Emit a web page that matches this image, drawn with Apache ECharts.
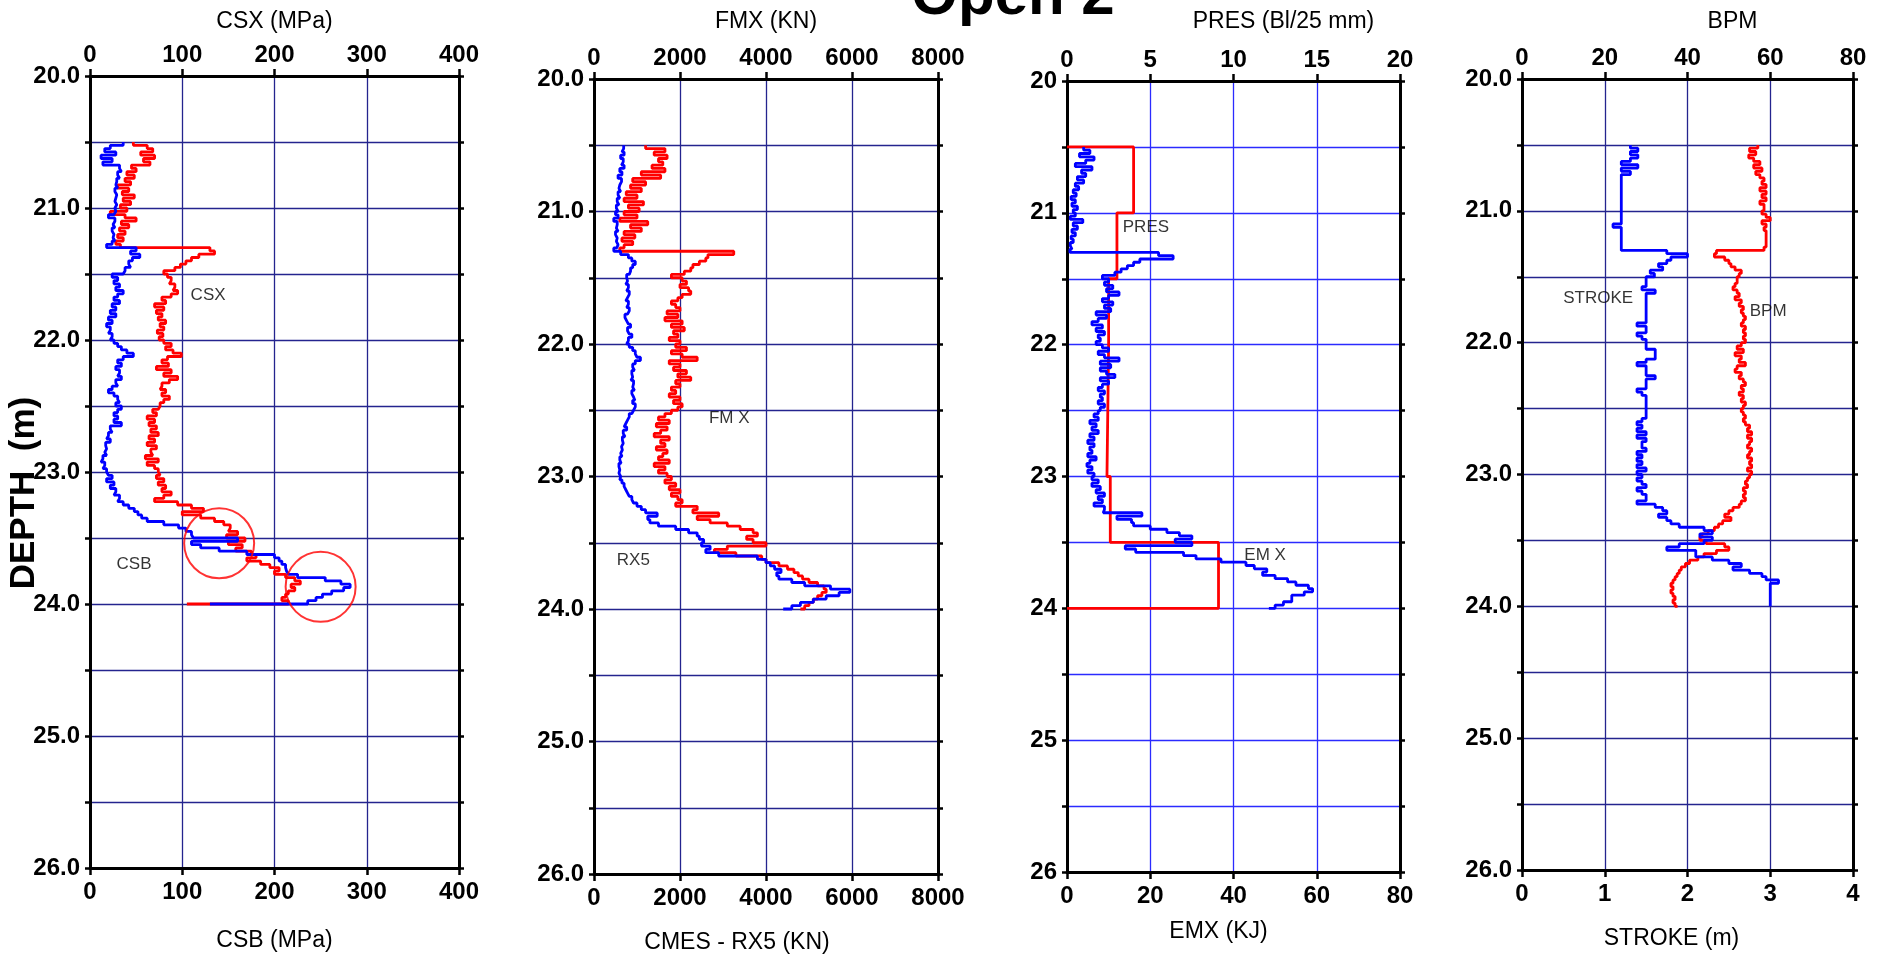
<!DOCTYPE html>
<html>
<head>
<meta charset="utf-8">
<script src="https://cdn.jsdelivr.net/npm/echarts@6/dist/echarts.min.js"></script>
<style>
  html, body { margin: 0; padding: 0; background: #ffffff; }
  #chart { width: 1879px; height: 958px; }
</style>
</head>
<body>
<div id="chart"></div>
<script>
// Depth samples (m) shared by the dynamic-monitoring records
const depth = [20.5,20.525,20.55,20.575,20.6,20.625,20.65,20.675,20.7,20.725,
  20.75,20.775,20.8,20.825,20.85,20.875,20.9,20.925,20.95,20.975,
  21,21.025,21.05,21.075,21.1,21.125,21.15,21.175,21.2,21.225,
  21.25,21.275,21.3,21.325,21.35,21.375,21.4,21.425,21.45,21.475,
  21.5,21.525,21.55,21.575,21.6,21.625,21.65,21.675,21.7,21.725,
  21.75,21.775,21.8,21.825,21.85,21.875,21.9,21.925,21.95,21.975,
  22,22.025,22.05,22.075,22.1,22.125,22.15,22.175,22.2,22.225,
  22.25,22.275,22.3,22.325,22.35,22.375,22.4,22.425,22.45,22.475,
  22.5,22.525,22.55,22.575,22.6,22.625,22.65,22.675,22.7,22.725,
  22.75,22.775,22.8,22.825,22.85,22.875,22.9,22.925,22.95,22.975,
  23,23.025,23.05,23.075,23.1,23.125,23.15,23.175,23.2,23.225,
  23.25,23.275,23.3,23.325,23.35,23.375,23.4,23.425,23.45,23.475,
  23.5,23.525,23.55,23.575,23.6,23.625,23.65,23.675,23.7,23.725,
  23.75,23.775,23.8,23.825,23.85,23.875,23.9,23.925,23.95,23.975,
  24];

// Compression stress at gauges (CSX) and at toe (CSB), MPa
const csx = [47,62,68,55,70,58,65,45,50,40,
  48,38,44,30,42,35,48,36,44,33,
  40,22,38,50,34,42,32,38,30,36,
  28,33,130,135,118,110,104,98,92,80,
  84,88,86,92,90,95,88,78,82,70,
  80,72,78,74,82,76,80,73,79,75,
  80,88,82,90,99,84,78,85,72,88,
  80,95,86,78,76,82,78,86,80,76,
  74,68,72,62,70,64,72,66,74,64,
  70,62,72,66,68,60,74,62,70,74,
  76,72,80,74,82,78,88,80,70,95,
  110,123,100,120,135,145,152,150,160,148,
  168,150,165,158,175,180,170,185,195,205,
  200,212,222,228,218,222,215,212,208,215,
  105];
const csb = [36,22,16,28,12,24,14,32,34,30,
  32,29,28,30,27,29,28,27,29,27,
  28,26,20,27,25,27,24,26,25,27,
  24,18,50,44,54,46,42,44,38,36,
  24,30,26,32,28,36,30,26,32,24,
  28,22,28,20,24,18,22,20,24,22,
  26,30,34,40,47,36,30,34,28,32,
  30,34,28,30,24,20,26,30,32,28,
  34,30,26,30,26,34,22,24,20,18,
  22,17,18,16,18,14,12,16,14,18,
  20,24,18,26,22,28,26,32,30,36,
  42,48,52,56,62,80,96,104,110,112,
  160,110,120,140,170,200,205,208,212,213,
  215,225,255,272,282,275,262,252,245,236,
  130];

// Maximum force (FMX) and mobilized resistance (RX5), kN
const fmx = [1200,1650,1400,1700,1500,1600,1350,1650,1100,1550,
  900,1200,850,1100,750,1000,700,1150,800,1050,
  700,1000,600,1250,850,1100,700,950,650,900,
  700,600,3250,2650,2600,2450,2300,2250,2100,1800,
  2050,2150,2000,2200,2250,2050,1950,1800,1900,2000,
  1700,1950,1650,2050,1800,2100,1850,1950,1750,2000,
  1900,2150,1800,2050,2400,1750,2000,1850,2150,1950,
  2250,1900,2000,1800,1900,1750,2000,1850,2050,1950,
  1800,1650,1500,1750,1450,1700,1550,1400,1750,1550,
  1650,1450,1700,1600,1500,1750,1400,1650,1500,1700,
  1800,1650,1900,1750,2000,1800,1950,2050,1900,2400,
  2300,2900,2400,2700,3100,3400,3700,3800,3550,3700,
  4000,3100,2800,3300,3900,4000,4300,4500,4650,4750,
  4850,5000,5200,5350,5400,5300,5200,5100,5000,4900,
  4800];
const rx5 = [690,650,700,620,680,640,700,600,650,560,
  640,600,580,620,560,600,540,580,520,560,
  500,560,460,540,520,560,500,540,520,560,
  530,460,620,800,880,960,900,850,820,760,
  780,740,800,760,820,780,740,800,760,820,
  780,720,760,800,850,780,820,880,800,760,
  820,900,960,1000,1080,960,900,940,880,900,
  860,920,900,940,880,920,950,900,960,920,
  880,820,780,740,700,760,680,720,660,680,
  640,660,620,650,600,630,580,600,580,620,
  600,650,700,740,780,820,880,920,1000,1100,
  1200,1470,1250,1300,1500,1900,2200,2400,2450,2550,
  2500,2700,2600,2900,3800,4000,4100,4200,4350,4250,
  4300,4600,4900,5500,5950,5700,5400,5100,4800,4600,
  4400];

// Penetration resistance per 0.5 m interval (blows / 25 mm)
const presDepth = [20.5,20.5,21.0,21.5,22.0,23.0,23.5,24.0];
const pres = [0,4,3,2.5,2.4,2.6,9.1,0];

// Transferred energy (EMX), kJ
const emx = [4,5.5,3,6.5,4.5,2,6,3.5,4.5,2.5,
  4,2,2.8,1.5,2.2,1,2,1.2,2.5,1.5,
  2,0.8,3.8,1.5,2.5,1.2,2,1,1.5,0.8,
  1.2,0.7,22,25.5,17.5,16,14.5,13,11.5,8.5,
  10,9,11,9.5,12.5,10,8.5,11,9,10.5,
  7,9.5,7.5,6,8.5,7,9,7.5,8,7,
  8.5,10,7.5,9,12.5,8,10.5,8,9.5,11.5,
  8,10,8.5,7.5,9,8,8.5,7.5,9,8,
  7.5,6.5,7.5,5.5,7,6,7.5,5.5,6.5,5,
  6.5,5.5,6,5,7,5.5,4.8,6,5,6.5,
  6,7.5,6,8,7,9,7.5,8.5,6.5,9,
  8.7,18,12,15.5,16,20,24,27,30,26,
  30,14,16.5,28,31,37,43,45,48,47,
  50,53,55,58,59,57,54,54,52,50,
  48.5];

// Blows per minute and hammer stroke (m)
const bpm = [57,55,56.5,54.8,56,57.5,56,58,56.5,57.5,
  58.5,58,59,57.5,59,58,59,57.5,58.5,58.5,
  58,59,60,58,59,58.5,59,59,59,59,
  59,58.5,47,46.5,49,50,50.5,51.5,53,52.5,
  52,52,51.5,51,52,52.5,51.5,53,52.5,53.5,
  53,53.5,54,53.5,53,54,53.5,54,53.5,54,
  53,52,53.5,51.5,53,52.5,54,52,51.5,53,
  52.5,53.5,54,53,53.5,52.5,53.5,53,54,53.5,
  53,53.5,54,53.5,54,55,54.5,55.5,54.5,55.5,
  55,54.5,55.5,55,54.5,55.5,55,55.5,54.5,55.5,
  55,54.5,54,54.5,53.5,54,53.5,54,53,52.5,
  51,50,49,50.5,48.5,47.5,46.5,45,43.5,43,
  44.5,49,50,47,44,42.5,40.5,39.5,38.5,38,
  37.5,37,36.5,36,36.5,36,36.5,37,36.5,37,
  37.6];
const stroke = [1.31,1.4,1.31,1.4,1.31,1.2,1.4,1.2,1.31,1.2,
  1.2,1.2,1.2,1.2,1.2,1.2,1.2,1.2,1.2,1.2,
  1.2,1.2,1.2,1.2,1.1,1.2,1.2,1.2,1.2,1.2,
  1.2,1.2,1.75,2.0,1.8,1.75,1.65,1.7,1.55,1.6,
  1.5,1.5,1.5,1.45,1.61,1.5,1.5,1.5,1.5,1.5,
  1.5,1.5,1.5,1.5,1.39,1.5,1.5,1.39,1.45,1.5,
  1.5,1.5,1.61,1.61,1.61,1.5,1.39,1.5,1.5,1.5,
  1.61,1.5,1.5,1.5,1.39,1.45,1.5,1.5,1.5,1.5,
  1.5,1.5,1.5,1.45,1.39,1.45,1.39,1.5,1.39,1.5,
  1.45,1.45,1.5,1.39,1.45,1.39,1.45,1.39,1.5,1.39,
  1.45,1.39,1.45,1.5,1.39,1.45,1.5,1.5,1.39,1.61,
  1.7,1.75,1.65,1.75,1.8,1.9,2.2,2.3,2.15,2.3,
  2.2,1.9,1.75,2.1,2.1,2.3,2.5,2.65,2.55,2.75,
  2.9,2.95,3.1,3.0,3.0,3.0,3.0,3.0,3.0,3.0,
  3.0];

// Highlighted zones on the stress panel
const circleValue = [140, 250];
const circleDepth = [23.54, 23.87];

// Axis titles and scales
const topNames = ['CSX (MPa)', 'FMX (KN)', 'PRES (Bl/25 mm)', 'BPM'];
const bottomNames = ['CSB (MPa)', 'CMES - RX5 (KN)', 'EMX (KJ)', 'STROKE (m)'];
const topMax = [400, 8000, 20, 80];
const topStep = [100, 2000, 5, 20];
const bottomMax = [400, 8000, 80, 4];
const bottomStep = [100, 2000, 20, 1];
const depthMin = 20, depthMax = 26, depthStep = 0.5;

// Curve tags written inside the panels
const noteText = ['CSX', 'CSB', 'FM X', 'RX5', 'PRES', 'EM X', 'STROKE', 'BPM'];
const notePanel = [0, 0, 1, 1, 2, 2, 3, 3];
const noteOnTop = [true, false, true, false, true, false, false, true];
const noteValue = [128, 47.7, 3146, 914, 4.74, 47.6, 0.92, 59.5];
const noteDepth = [21.66, 23.70, 22.56, 23.63, 21.11, 23.6, 21.66, 21.76];

// ---- presentation ----
const RED = '#ff0000', BLUE = '#0000ff';
const LABEL_FONT = '"Liberation Sans", Arial, sans-serif';
const TEXT_FONT = '"Liberation Sans", Arial, sans-serif';

const layout = [
  { left: 90,   top: 76, width: 369, height: 792, grid: '#24248e', topGap: 43, botGap: 61, topShift: 0,  botShift: 0,   digits: 1 },
  { left: 594,  top: 79, width: 344, height: 795, grid: '#24248e', topGap: 46, botGap: 57, topShift: 0,  botShift: -29, digits: 1 },
  { left: 1067, top: 81, width: 333, height: 791, grid: '#2b2bff', topGap: 48, botGap: 48, topShift: 50, botShift: -15, digits: 0 },
  { left: 1522, top: 79, width: 331, height: 791, grid: '#24248e', topGap: 46, botGap: 57, topShift: 45, botShift: -16, digits: 1 }
];

function shiftPad(s) {
  return s >= 0 ? [0, 0, 0, 2 * s] : [0, -2 * s, 0, 0];
}

const grids = [], xAxes = [], yAxes = [], series = [];

layout.forEach((p, k) => {
  grids.push({ left: p.left, top: p.top, width: p.width, height: p.height,
               containLabel: false, outerBoundsMode: 'none' });
  const tickLabel = { fontSize: 24, fontWeight: 'bold', fontFamily: LABEL_FONT, color: '#000' };
  const line = { show: true, onZero: false, lineStyle: { color: '#000', width: 3 } };
  const plain = v => String(v);
  xAxes.push({
    gridIndex: k, type: 'value', position: 'top', min: 0, max: topMax[k], interval: topStep[k],
    name: topNames[k], nameLocation: 'middle', nameGap: p.topGap,
    nameTextStyle: { fontSize: 23, fontFamily: TEXT_FONT, color: '#000', padding: shiftPad(p.topShift) },
    axisLine: line,
    axisTick: { show: true, length: 7, lineStyle: { color: '#000', width: 2.5 } },
    axisLabel: Object.assign({ margin: 9, formatter: plain }, tickLabel),
    splitLine: { show: true, lineStyle: { color: p.grid, width: 1.3 } }
  });
  xAxes.push({
    gridIndex: k, type: 'value', position: 'bottom', min: 0, max: bottomMax[k], interval: bottomStep[k],
    name: bottomNames[k], nameLocation: 'middle', nameGap: p.botGap,
    nameTextStyle: { fontSize: 23, fontFamily: TEXT_FONT, color: '#000', padding: shiftPad(p.botShift) },
    axisLine: line,
    axisTick: { show: true, length: 7, lineStyle: { color: '#000', width: 2.5 } },
    axisLabel: Object.assign({ margin: 12, formatter: plain }, tickLabel),
    splitLine: { show: false }
  });
  yAxes.push({
    gridIndex: k, type: 'value', position: 'left', inverse: true,
    min: depthMin, max: depthMax, interval: depthStep,
    axisLine: line,
    axisTick: { show: true, length: 5, lineStyle: { color: '#000', width: 2.5 } },
    axisLabel: Object.assign({
      margin: 10,
      formatter: v => (Math.abs(v - Math.round(v)) < 1e-6 ? v.toFixed(p.digits) : '')
    }, tickLabel),
    splitLine: { show: true, lineStyle: { color: p.grid, width: 1.3 } }
  });
  yAxes.push({
    gridIndex: k, type: 'value', position: 'right', inverse: true,
    min: depthMin, max: depthMax, interval: depthStep,
    axisLine: line,
    axisTick: { show: true, length: 5, lineStyle: { color: '#000', width: 2.5 } },
    axisLabel: { show: false },
    splitLine: { show: false }
  });
});

function logLine(values, depths, panel, onTop, color) {
  return {
    type: 'line', xAxisIndex: panel * 2 + (onTop ? 0 : 1), yAxisIndex: panel * 2,
    data: depths.map((d, i) => [values[i], d]),
    step: 'start', symbol: 'none', silent: true,
    lineStyle: { color: color, width: 2.8 }, z: 3
  };
}

series.push(logLine(csx, depth, 0, true, RED));
series.push(logLine(csb, depth, 0, false, BLUE));
series.push(logLine(fmx, depth, 1, true, RED));
series.push(logLine(rx5, depth, 1, false, BLUE));
series.push(logLine(pres, presDepth, 2, true, RED));
series.push(logLine(emx, depth, 2, false, BLUE));
series.push(logLine(bpm, depth, 3, true, RED));
series.push(logLine(stroke, depth, 3, false, BLUE));

// circled zones
series.push({
  type: 'scatter', xAxisIndex: 0, yAxisIndex: 0, symbol: 'circle', symbolSize: 70, silent: true,
  data: circleValue.map((v, i) => [v, circleDepth[i]]),
  itemStyle: { color: 'rgba(0,0,0,0)', borderColor: RED, borderWidth: 2 }, z: 5
});

// curve tags
noteText.forEach((t, i) => {
  series.push({
    type: 'scatter', xAxisIndex: notePanel[i] * 2 + (noteOnTop[i] ? 0 : 1), yAxisIndex: notePanel[i] * 2,
    symbolSize: 1, silent: true,
    itemStyle: { color: 'rgba(0,0,0,0)' },
    data: [{ value: [noteValue[i], noteDepth[i]], name: t }],
    label: { show: true, position: 'inside', formatter: '{b}', color: '#000',
             textBorderWidth: 0, textShadowBlur: 0,
             fontSize: 17, fontFamily: TEXT_FONT },
    z: 6
  });
});

const chart = echarts.init(document.getElementById('chart'), null, { renderer: 'canvas' });
chart.setOption({
  animation: false,
  backgroundColor: '#ffffff',
  grid: grids,
  xAxis: xAxes,
  yAxis: yAxes,
  series: series,
  graphic: [
    {
      type: 'text', x: 1013, y: -3,
      style: { text: 'Open 2', font: 'bold 60px ' + TEXT_FONT, fill: '#000',
               textAlign: 'center', textVerticalAlign: 'middle' }
    },
    {
      type: 'text', x: 24, y: 493, rotation: Math.PI / 2,
      style: { text: 'DEPTH  (m)', font: 'bold 35px ' + TEXT_FONT, fill: '#000',
               textAlign: 'center', textVerticalAlign: 'middle' }
    }
  ]
});
</script>
</body>
</html>
